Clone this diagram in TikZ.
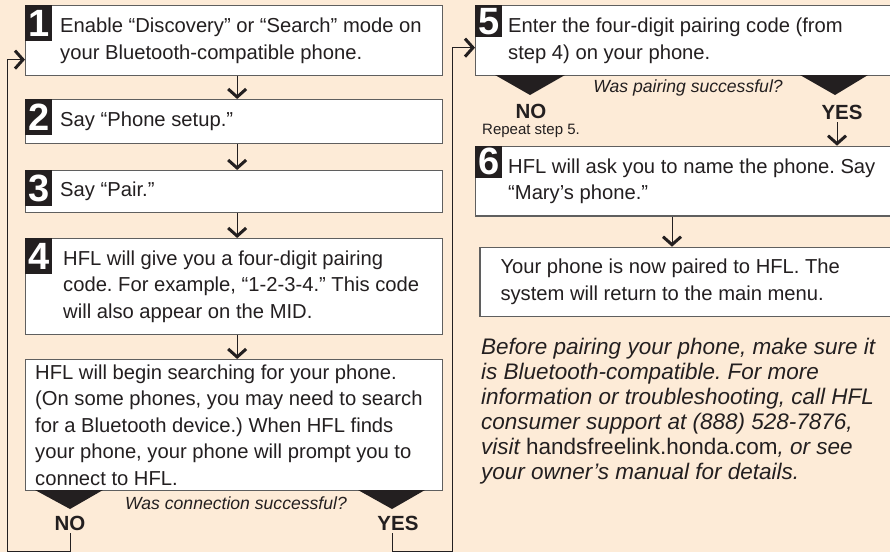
\documentclass[tikz,border=0pt]{standalone}
\usepackage{fontspec}
\setmainfont{Liberation Sans}
\usetikzlibrary{arrows.meta}
\frenchspacing

\definecolor{peach}{RGB}{253,235,215}
\definecolor{ink}{RGB}{35,31,32}
\definecolor{frame}{RGB}{95,95,95}

\tikzset{
  stepbox/.style={draw=frame, line width=1.3pt, fill=white, anchor=north west, inner sep=0pt},
  badge/.style={fill=ink, text=white, anchor=north west, minimum width=27, minimum height=36,
    inner sep=0pt, font=\fontsize{38}{38}\selectfont\bfseries},
  txt/.style={anchor=west, align=left, inner sep=0pt, text=ink, font=\fontsize{20.2}{26.5}\selectfont},
  ask/.style={inner sep=0pt, text=ink, font=\fontsize{17.6}{20}\selectfont\itshape},
  answer/.style={inner sep=0pt, text=ink, font=\fontsize{20.5}{22}\selectfont\bfseries},
  arr/.style={draw=ink, line width=1pt, -{Straight Barb[length=8pt,width=18pt,line width=3pt]}}
}

\begin{document}
\begin{tikzpicture}[x=1pt, y=-1pt]

    \useasboundingbox (0,0) rectangle (890,552);
    \clip (0,0) rectangle (890,552);
    \fill [peach] (0,0) rectangle (890,552);

    % left column
    \node [stepbox, minimum width=417, minimum height=70] (b1) at (25,5) {};
    \node [stepbox, minimum width=417, minimum height=44] (b2) at (25,99) {};
    \node [stepbox, minimum width=417, minimum height=42] (b3) at (25,170) {};
    \node [stepbox, minimum width=417, minimum height=96] (b4) at (25,238) {};
    \node [stepbox, minimum width=417, minimum height=131] (bsearch) at (25,359) {};

    \node [txt] (t1) at ([xshift=35]b1.west) {Enable “Discovery” or “Search” mode on\\your Bluetooth-compatible phone.};
    \node [txt] (t2) at ([xshift=35]b2.west) {Say “Phone setup.”};
    \node [txt] (t3) at ([xshift=35]b3.west) {Say “Pair.”};
    \node [txt] (t4) at ([xshift=38]b4.west) {HFL will give you a four-digit pairing\\code. For example, “1-2-3-4.” This code\\will also appear on the MID.};
    \node [txt] (tsearch) at ([xshift=10]bsearch.west) {HFL will begin searching for your phone.\\(On some phones, you may need to search\\for a Bluetooth device.) When HFL finds\\your phone, your phone will prompt you to\\connect to HFL.};

    \node [badge] (n1) at (b1.north west) {1};
    \node [badge] (n2) at (b2.north west) {2};
    \node [badge] (n3) at (b3.north west) {3};
    \node [badge] (n4) at (b4.north west) {4};

    \draw [arr] ([xshift=3]b1.south) -- ([xshift=3]b2.north);
    \draw [arr] ([xshift=3]b2.south) -- ([xshift=3]b3.north);
    \draw [arr] ([xshift=3]b3.south) -- ([xshift=3]b4.north);
    \draw [arr] ([xshift=3]b4.south) -- ([xshift=3]bsearch.north);

    \fill [ink] (35,490) -- (103,490) -- (70,509) -- cycle;
    \fill [ink] (358,490) -- (425,490) -- (392,509) -- cycle;
    \node [ask] (q1) at (236,503) {Was connection successful?};
    \node [answer] (no1) at (70,523) {NO};
    \node [answer] (yes1) at (398,523) {YES};

    % right column
    \node [stepbox, minimum width=430, minimum height=70] (b5) at (475,5) {};
    \node [stepbox, minimum width=430, minimum height=69.5] (b6) at (475,145.7) {};
    \node [stepbox, minimum width=430, minimum height=69] (bdone) at (479.3,246.7) {};

    \node [txt] (t5) at ([xshift=33]b5.west) {Enter the four-digit pairing code (from\\step 4) on your phone.};
    \node [txt] (t6) at ([xshift=33]b6.west) {HFL will ask you to name the phone. Say\\“Mary’s phone.”};
    \node [txt] (tdone) at ([xshift=21]bdone.west) {Your phone is now paired to HFL. The\\system will return to the main menu.};

    \node [badge, minimum height=32] (n5) at (b5.north west) {5};
    \node [badge, minimum height=32] (n6) at (b6.north west) {6};

    \fill [ink] (495,75) -- (565,75) -- (530,95) -- cycle;
    \fill [ink] (800,75) -- (868,75) -- (835,95) -- cycle;
    \node [ask] (q2) at (688,88) {Was pairing successful?};
    \node [answer] (no2) at (531,111) {NO};
    \node [inner sep=0pt, text=ink, font=\fontsize{15}{17}\selectfont] (rep) at (531,130.5) {Repeat step 5.};
    \node [answer] (yes2) at (842,112) {YES};

    \draw [arr] ([xshift=-5,yshift=-3]yes2.south) -- ([xshift=-5]yes2.south |- b6.north);
    \draw [arr] ([xshift=197]b6.south west) -- ([xshift=197]b6.south west |- bdone.north);

    % loops back
    \coordinate (loopL) at (7,551);
    \coordinate (loopR) at (452.5,551);
    \draw [arr] ([yshift=-3]no1.south) |- (loopL) |- ([yshift=-19]b1.west);
    \draw [arr] ([xshift=-6,yshift=-3]yes1.south) |- (loopR) |- ([yshift=-7]b5.west);

    \node [anchor=north west, align=left, inner sep=0pt, text=ink,
           font=\fontsize{22.5}{25}\selectfont\itshape] (note) at (481,338)
      {Before pairing your phone, make sure it\\is Bluetooth-compatible. For more\\information or troubleshooting, call HFL\\consumer support at (888) 528-7876,\\visit {\upshape handsfreelink.honda.com}, or see\\your owner’s manual for details.};

\end{tikzpicture}
\end{document}
